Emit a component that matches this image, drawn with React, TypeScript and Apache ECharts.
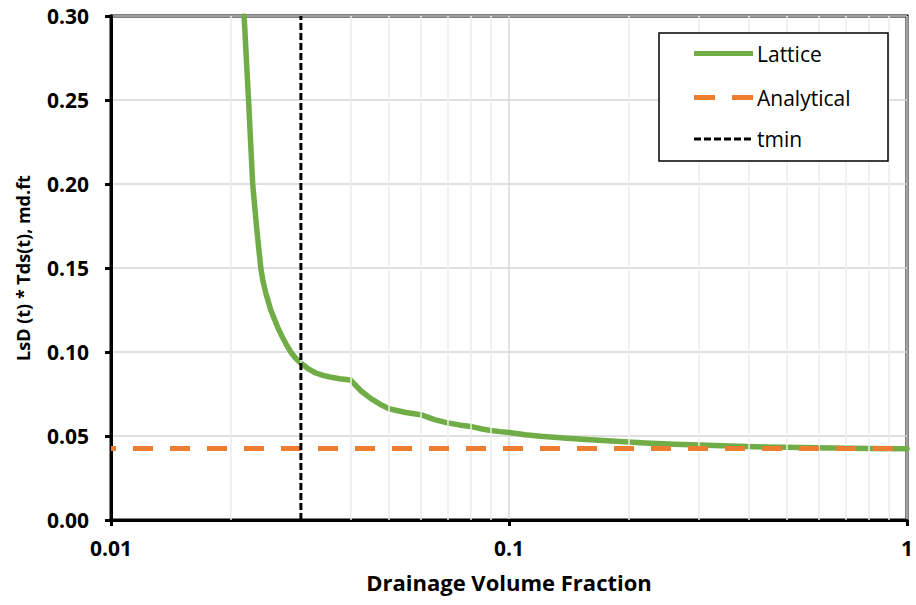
import React, { useEffect, useRef } from "react";
import * as echarts from "echarts";

// Lattice curve
const latticeX = [
  0.0216, 0.02216, 0.0227, 0.023, 0.02321, 0.0235, 0.02379, 0.0241, 0.02449, 0.0252,
  0.0257, 0.0262, 0.0268, 0.02749, 0.02829, 0.0291, 0.03, 0.0313, 0.0327, 0.0341, 0.0355,
  0.0375, 0.04, 0.0425, 0.045, 0.0475, 0.05, 0.055, 0.06, 0.065, 0.07,
  0.075, 0.08, 0.085, 0.09, 0.095, 0.1, 0.11, 0.12, 0.14, 0.16, 0.19, 0.22, 0.26, 0.3,
  0.36, 0.44, 0.54, 0.65, 0.8, 1.0,
];
const latticeY = [
  0.3, 0.25, 0.2, 0.185, 0.1746, 0.162, 0.15, 0.142, 0.135, 0.125,
  0.12, 0.115, 0.11, 0.105, 0.1, 0.0963, 0.0933, 0.09, 0.0875, 0.0861, 0.0851,
  0.0841, 0.0833, 0.0768, 0.0722, 0.0688, 0.0662, 0.064, 0.0627, 0.0597, 0.0578,
  0.0566, 0.0557, 0.0543, 0.0533, 0.0526, 0.0521, 0.0507, 0.0498, 0.0487, 0.0478, 0.0467, 0.0459,
  0.0451, 0.0446, 0.044, 0.0435, 0.0431, 0.0428, 0.0426, 0.0424,
];
// Analytical constant
const analyticalX = [0.01, 1];
const analyticalY = [0.0425, 0.0425];
// tmin vertical line
const tminX = [0.03, 0.03];
const tminY = [0, 0.3];
// minor vertical gridlines
const minorGridX = [0.02, 0.03, 0.04, 0.05, 0.06, 0.07, 0.08, 0.09, 0.2, 0.3, 0.4, 0.5, 0.6, 0.7, 0.8, 0.9];
const legendNames = ["Lattice", "Analytical", "tmin"];

const FONT = "'Open Sans', 'DejaVu Sans', sans-serif";
const GREEN = "#70AD47";
const ORANGE = "#ED7D31";

export default function App() {
  const ref = useRef<HTMLDivElement>(null);
  useEffect(() => {
    if (!ref.current) return;
    const chart = echarts.init(ref.current, undefined, { renderer: "svg" });
    const zip = (xs: number[], ys: number[]) => xs.map((x, i) => [x, ys[i]]);

    const legendStyles = [
      { stroke: GREEN, lineWidth: 5, lineDash: null as any, y: 53.5 },
      { stroke: ORANGE, lineWidth: 5, lineDash: [21, 17], y: 97.5 },
      { stroke: "#000", lineWidth: 3, lineDash: [7, 3], y: 139 },
    ];
    const legendGraphics: any[] = [
      {
        type: "rect",
        shape: { x: 659, y: 33, width: 229, height: 128 },
        style: { fill: "#fff", stroke: "#000", lineWidth: 1.5 },
        z: 100,
      },
    ];
    legendNames.forEach((name, i) => {
      const s = legendStyles[i];
      legendGraphics.push({
        type: "line",
        shape: { x1: 694, y1: s.y, x2: 753, y2: s.y },
        style: { stroke: s.stroke, lineWidth: s.lineWidth, lineDash: s.lineDash },
        z: 101,
      });
      legendGraphics.push({
        type: "text",
        x: 757,
        y: s.y,
        style: {
          text: name,
          fill: "#000",
          fontSize: 21,
          fontFamily: FONT,
          verticalAlign: "middle",
          align: "left",
        },
        z: 101,
      });
    });

    chart.setOption({
      animation: false,
      backgroundColor: "#fff",
      textStyle: { fontFamily: FONT },
      grid: {
        left: 111,
        right: 8,
        top: 16,
        bottom: 85,
        show: true,
        borderColor: "#000",
        borderWidth: 3,
        backgroundColor: "transparent",
      },
      legend: { show: false, data: legendNames },
      graphic: legendGraphics,
      xAxis: {
        type: "log",
        logBase: 10,
        min: 0.01,
        max: 1,
        name: "Drainage Volume Fraction",
        nameLocation: "middle",
        nameGap: 51,
        nameTextStyle: { fontFamily: FONT, fontSize: 22, fontWeight: "bold", color: "#000" },
        axisLine: { show: true, onZero: false, lineStyle: { color: "#000", width: 3 } },
        axisTick: { show: true, length: 6, lineStyle: { color: "#000", width: 3 } },
        axisLabel: {
          fontFamily: FONT,
          fontSize: 21,
          fontWeight: "bold",
          color: "#000",
          margin: 17,
          formatter: (v: number) => (v >= 1 ? "1" : String(Number(v.toPrecision(3)))),
        },
        splitLine: { show: true, lineStyle: { color: "#d9d9d9", width: 1.5 } },
      },
      yAxis: {
        type: "value",
        min: 0,
        max: 0.3,
        interval: 0.05,
        name: "LsD (t) * Tds(t), md.ft",
        nameLocation: "middle",
        nameGap: 79,
        nameRotate: 90,
        nameTextStyle: { fontFamily: FONT, fontSize: 18, fontWeight: "bold", color: "#000" },
        axisLine: { show: true, lineStyle: { color: "#000", width: 3 } },
        axisTick: { show: true, length: 6, lineStyle: { color: "#000", width: 3 } },
        axisLabel: {
          fontFamily: FONT,
          fontSize: 21,
          fontWeight: "bold",
          color: "#000",
          margin: 22,
          formatter: (v: number) => v.toFixed(2),
        },
        splitLine: { show: true, lineStyle: { color: "#d4d4d4", width: 1.5 } },
      },
      series: [
        {
          name: "minorGrid",
          type: "line",
          data: [],
          z: 1,
          silent: true,
          markLine: {
            silent: true,
            symbol: "none",
            label: { show: false },
            lineStyle: { color: "#ececec", width: 1.5, type: "solid" },
            data: minorGridX.map((x) => ({ xAxis: x })),
          },
        },
        {
          name: "Lattice",
          type: "line",
          data: zip(latticeX, latticeY),
          showSymbol: false,
          symbol: "none",
          smooth: false,
          z: 4,
          lineStyle: { color: GREEN, width: 5.5, join: "round", cap: "round" },
          itemStyle: { color: GREEN },
        },
        {
          name: "Analytical",
          type: "line",
          data: zip(analyticalX, analyticalY),
          showSymbol: false,
          symbol: "none",
          z: 5,
          lineStyle: { color: ORANGE, width: 5, type: [20, 17], dashOffset: 15 },
          itemStyle: { color: ORANGE },
        },
        {
          name: "tmin",
          type: "line",
          data: zip(tminX, tminY),
          showSymbol: false,
          symbol: "none",
          z: 6,
          lineStyle: { color: "#000", width: 3, type: [7, 3] },
          itemStyle: { color: "#000" },
        },
      ],
    });
    return () => chart.dispose();
  }, []);
  return <div ref={ref} style={{ width: 916, height: 605, position: "absolute", left: 0, top: 0 }} />;
}
